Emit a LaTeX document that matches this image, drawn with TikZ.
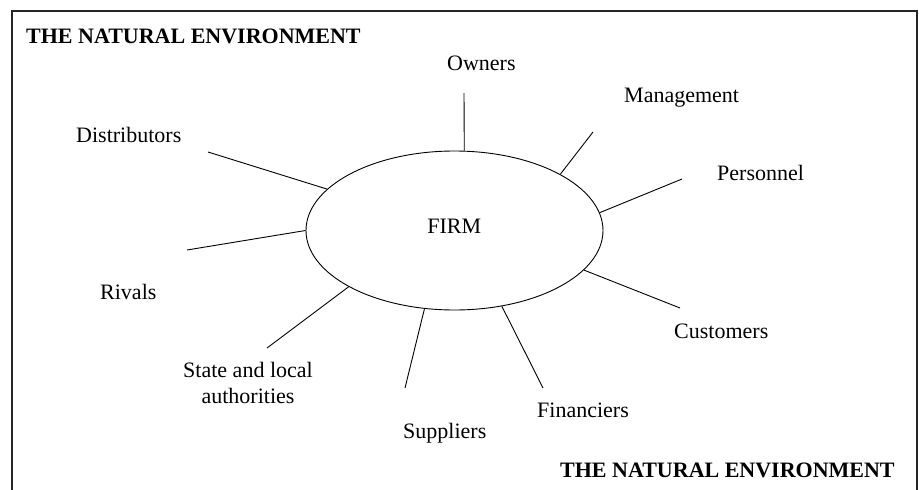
\documentclass[tikz,border=0pt]{standalone}
\usepackage{fontspec}
\setmainfont{Liberation Serif}
\usetikzlibrary{shapes.geometric}
\begin{document}
\begin{tikzpicture}[x=1pt,y=-1pt,
  lbl/.style={anchor=base west,inner sep=0pt,font=\fontsize{22}{26}\selectfont},
  title/.style={anchor=base west,inner sep=0pt,font=\fontsize{22}{26}\selectfont\bfseries},
  spoke/.style={line width=0.9pt},
  frame/.style={line width=1.8pt,color=black!85}]
  \useasboundingbox (0,0) rectangle (919,490);
  % surrounding frame, open at the bottom
  \draw[frame] (12,490) -- (12,11) -- (917,11) -- (917,490);

  % the firm
  \node[draw,ellipse,line width=0.9pt,minimum width=297pt,minimum height=159pt,inner sep=0pt] (firm) at (454.5,230.5) {};
  \node[anchor=base,inner sep=0pt,font=\fontsize{22}{26}\selectfont] (firmlabel) at (454.3,233) {FIRM};

  % stakeholder labels
  \node[title] (envtop) at (26,43) {THE NATURAL ENVIRONMENT};
  \node[title] (envbottom) at (560,477) {THE NATURAL ENVIRONMENT};
  \node[lbl] (owners) at (447,70) {Owners};
  \node[lbl] (management) at (624,102) {Management};
  \node[lbl] (personnel) at (717,180) {Personnel};
  \node[lbl] (customers) at (674,338) {Customers};
  \node[lbl] (financiers) at (537,417) {Financiers};
  \node[lbl] (suppliers) at (403,438) {Suppliers};
  % two-line label: the base anchor sits on the last line
  \node[anchor=base,inner sep=0pt,align=center,font=\fontsize{22}{26}\selectfont] (state) at (248,403) {State and local\\authorities};
  \node[lbl] (rivals) at (100,299) {Rivals};
  \node[lbl] (distributors) at (76,142) {Distributors};

  % free ends of the spokes
  \coordinate (eOwners) at (464,93);
  \coordinate (eManagement) at (593,132);
  \coordinate (ePersonnel) at (682,179);
  \coordinate (eCustomers) at (680,308);
  \coordinate (eFinanciers) at (543,388);
  \coordinate (eSuppliers) at (405,388);
  \coordinate (eState) at (267,348);
  \coordinate (eRivals) at (187,250);
  \coordinate (eDistributors) at (208,152);

  % spokes from the firm outwards
  \draw[spoke] (firm.83.2) -- (eOwners);
  \draw[spoke] (firm.28.7) -- (eManagement);
  \draw[spoke] (firm.7.86) -- (ePersonnel);
  \draw[spoke] (firm.-17.1) -- (eCustomers);
  \draw[spoke] (firm.-58.3) -- (eFinanciers);
  \draw[spoke] (firm.249.2) -- (eSuppliers);
  \draw[spoke] (firm.208.3) -- (eState);
  \draw[spoke] (firm.180.2) -- (eRivals);
  \draw[spoke] (firm.162.6) -- (eDistributors);
\end{tikzpicture}
\end{document}
